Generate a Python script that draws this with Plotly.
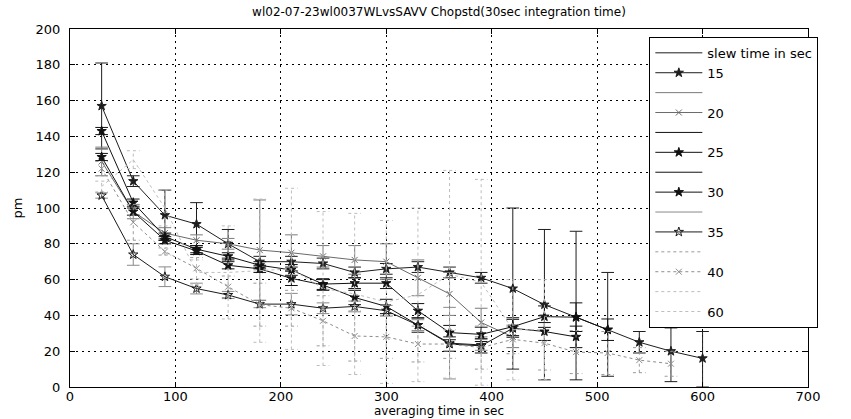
import plotly.graph_objects as go

# ---------------- data ----------------
AVG_TIME = [30, 60, 90, 120, 150, 180, 210, 240, 270, 300, 330, 360, 390,
            420, 450, 480, 510, 540, 570, 600]

SLEW_LABELS = ["15", "20", "25", "30", "35", "40", "60"]

PM_15 = [157, 115, 96, 91, 80, 70, 70, 69, 64, 66, 67, 64, 61, 55, 46, 39, 32, 25, 20, 16]
ERR_UP_15 = [24, 3, 14, 12, 8, 3, 3, 3, 3, 3, 3, 3, 3, 45, 42, 48, 32, 6, 13, 15]
ERR_DN_15 = [24, 3, 14, 12, 8, 3, 3, 3, 3, 3, 3, 3, 3, 45, 42, 35, 26, 6, 17, 16]

PM_20 = [126, 98, 86, 82, 80, 76.5, 75, 73, 71, 70, 61, 52, 36, 28]
ERR_20 = [8, 4, 3, 3, 3, 28, 10, 6, 8, 10, 10, 12, 8, 6]

PM_25 = [143, 103, 84, 77, 73, 68, 65.4, 57.5, 58, 58, 42.6, 30.4, 29.4, 33.7, 39.3, 39, 32]
ERR_25 = [2, 2, 2, 2, 2, 2, 3, 3, 3, 3, 4, 4, 4, 5, 6, 8, 6]

PM_30 = [128.5, 98, 82, 76, 68, 66, 60.7, 57, 50, 45, 34.6, 24, 23, 32.8, 31, 28]
ERR_30 = [2, 2, 2, 2, 2, 2, 4, 3, 4, 4, 4, 4, 4, 5, 5, 6]

PM_35 = [107, 74, 61.6, 55, 51.4, 46.3, 46.3, 44, 45, 42.6, 34.6, 24.5, 23.5]
ERR_35 = [1.5, 6, 5.5, 3, 2, 2, 6, 3, 3, 3, 3, 20, 3]

PM_40 = [122, 92, 75.7, 66.3, 56, 46, 44, 37, 28.5, 28, 24, 24, 22, 26.6, 24.5, 19.5, 19, 15, 13]
ERR_40 = [4, 10, 2, 6, 6, 12, 10, 14, 14, 12, 10, 8, 12, 8, 15, 12, 12, 7, 7]

PM_60 = [112, 127, 100, 64, 64, 65, 66, 55, 52, 47.5, 51.5, 63, 58.5, 32, 32]
ERR_60 = [3, 5, 10, 7, 26, 40, 45, 43, 45, 45.5, 48.5, 58, 57.5, 28, 28]

X_TICKS = [0, 100, 200, 300, 400, 500, 600, 700]
Y_TICKS = [0, 20, 40, 60, 80, 100, 120, 140, 160, 180, 200]

TITLE = "wl02-07-23wl0037WLvsSAVV Chopstd(30sec integration time)"
X_LABEL = "averaging time in sec"
Y_LABEL = "pm"
LEGEND_HEADER = "slew time in sec"

# ---------------- styling ----------------
FONT = "DejaVu Sans"
CAP = 6  # half width of the error-bar caps, in x data units

series = [
    # values, up, down, line colour, dash, marker, err colour, err dash, err name
    (PM_15, ERR_UP_15, ERR_DN_15, "#1e1e1e", "solid", ("star", 7), "#1e1e1e", "solid", LEGEND_HEADER),
    (PM_20, ERR_20, ERR_20, "#6a6a6a", "solid", ("x-thin", 6), "#7a7a7a", "solid", ""),
    (PM_25, ERR_25, ERR_25, "#111111", "solid", ("star", 7), "#111111", "solid", ""),
    (PM_30, ERR_30, ERR_30, "#111111", "solid", ("star", 7), "#111111", "solid", ""),
    (PM_35, ERR_35, ERR_35, "#1a1a1a", "solid", ("star-open", 7), "#8a8a8a", "solid", ""),
    (PM_40, ERR_40, ERR_40, "#8c8c8c", "dot", ("x-thin", 6), "#9a9a9a", "dot", ""),
    (PM_60, ERR_60, ERR_60, "#bdbdbd", "dot", (None, 0), "#bcbcbc", "dot", ""),
]


def error_paths(xs, ys, up, dn, cap):
    ex, ey = [], []
    for x, y, u, d in zip(xs, ys, up, dn):
        ex += [x, x, None, x - cap, x + cap, None, x - cap, x + cap, None]
        ey += [y - d, y + u, None, y + u, y + u, None, y - d, y - d, None]
    return ex, ey


fig = go.Figure()
for label, (vals, up, dn, col, dash, (sym, msize), ecol, edash, ename) in zip(SLEW_LABELS, series):
    xs = AVG_TIME[:len(vals)]
    ex, ey = error_paths(xs, vals, up, dn, CAP)
    fig.add_trace(go.Scatter(
        x=ex, y=ey, mode="lines", name=ename,
        line=dict(color=ecol, width=1, dash=edash),
        hoverinfo="skip"))
    if sym:
        fig.add_trace(go.Scatter(
            x=xs, y=vals, mode="lines+markers", name=label,
            line=dict(color=col, width=1, dash=dash),
            marker=dict(symbol=sym, size=msize, color=col,
                        line=dict(color=col, width=1))))
    else:
        fig.add_trace(go.Scatter(
            x=xs, y=vals, mode="lines", name=label,
            line=dict(color=col, width=1, dash=dash)))

axis_common = dict(
    showline=True, linecolor="black", linewidth=1, mirror="ticks",
    ticks="inside", ticklen=5, tickcolor="black",
    showgrid=True, gridcolor="black", gridwidth=1, griddash="2px,4px",
    zeroline=False,
    tickfont=dict(family=FONT, size=13, color="black"),
)

fig.update_layout(
    width=851, height=419,
    margin=dict(l=70, r=43, t=29, b=32, autoexpand=False),
    paper_bgcolor="white", plot_bgcolor="white",
    font=dict(family=FONT, size=12, color="black"),
    title=dict(text=TITLE, x=0.5, xref="paper", xanchor="center",
               y=0.972, yref="container", yanchor="middle",
               font=dict(family=FONT, size=12, color="black")),
    xaxis=dict(range=[0, 700], tickvals=X_TICKS, ticklabelstandoff=-3,
               title=dict(text=X_LABEL, standoff=2,
                          font=dict(family=FONT, size=12)),
               **axis_common),
    yaxis=dict(range=[0, 200], tickvals=Y_TICKS, ticklabelstandoff=6,
               title=dict(text=Y_LABEL, standoff=10,
                          font=dict(family=FONT, size=13)),
               **axis_common),
    legend=dict(x=0.785, y=0.978, xanchor="left", yanchor="top",
                bgcolor="white", bordercolor="black", borderwidth=1,
                font=dict(family=FONT, size=13, color="black"),
                itemwidth=47, traceorder="normal"),
    showlegend=True,
)

# the page body has a default 8px margin; remove it so the figure sits at (0,0)
fig.write_html("out.html", config={"displayModeBar": False},
               post_script="document.body.style.margin='0px';")
